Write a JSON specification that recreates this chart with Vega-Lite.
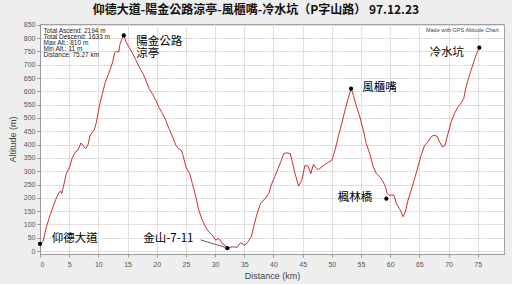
{
  "$schema": "https://vega.github.io/schema/vega-lite/v6.json",
  "width": 464,
  "height": 230,
  "autosize": "none",
  "padding": {"left": 40, "top": 24, "right": 8, "bottom": 30},
  "background": "#eeeeee",
  "title": {
    "text": "仰德大道-陽金公路涼亭-風櫃嘴-冷水坑（P字山路） 97.12.23",
    "font": "Noto Sans CJK TC",
    "fontSize": 12,
    "fontWeight": "bold",
    "color": "#111111",
    "anchor": "middle",
    "frame": "group",
    "dx": -16,
    "offset": 4
  },
  "config": {
    "view": {"fill": "#ffffff", "stroke": "#a0a0a0"},
    "axis": {
      "labelFont": "Liberation Sans",
      "labelFontSize": 7,
      "labelColor": "#555555",
      "titleFont": "Liberation Sans",
      "titleFontSize": 9,
      "titleFontWeight": "normal",
      "titleColor": "#444444",
      "domainColor": "#999999",
      "tickColor": "#999999",
      "tickSize": 3,
      "gridColor": "#d0d0d0",
      "gridDash": [2, 1]
    }
  },
  "datasets": {
    "profile": [
      {"d": 0.0, "a": 26}, {"d": 0.5, "a": 35}, {"d": 1.1, "a": 91}, {"d": 1.65, "a": 129},
      {"d": 2.2, "a": 164}, {"d": 2.7, "a": 194}, {"d": 3.1, "a": 214}, {"d": 3.5, "a": 226},
      {"d": 3.7, "a": 216}, {"d": 4.0, "a": 241}, {"d": 4.5, "a": 291}, {"d": 5.07, "a": 316},
      {"d": 5.5, "a": 348}, {"d": 6.0, "a": 371}, {"d": 6.5, "a": 379}, {"d": 7.0, "a": 406},
      {"d": 7.45, "a": 394}, {"d": 7.8, "a": 385}, {"d": 8.25, "a": 401}, {"d": 8.6, "a": 436},
      {"d": 8.9, "a": 444}, {"d": 9.3, "a": 456}, {"d": 9.6, "a": 478}, {"d": 10.2, "a": 547},
      {"d": 10.75, "a": 597}, {"d": 11.2, "a": 635}, {"d": 11.65, "a": 660}, {"d": 12.1, "a": 687},
      {"d": 12.45, "a": 710}, {"d": 12.8, "a": 745}, {"d": 13.1, "a": 750}, {"d": 13.5, "a": 747},
      {"d": 13.7, "a": 777}, {"d": 14.05, "a": 797}, {"d": 14.35, "a": 810}, {"d": 14.7, "a": 788},
      {"d": 15.3, "a": 764}, {"d": 15.9, "a": 741}, {"d": 16.4, "a": 719}, {"d": 17.0, "a": 691},
      {"d": 17.6, "a": 669}, {"d": 18.15, "a": 641}, {"d": 18.7, "a": 610}, {"d": 19.3, "a": 589},
      {"d": 19.85, "a": 566}, {"d": 20.4, "a": 539}, {"d": 21.0, "a": 516}, {"d": 21.55, "a": 491},
      {"d": 22.1, "a": 460}, {"d": 22.7, "a": 429}, {"d": 23.3, "a": 397}, {"d": 23.7, "a": 385},
      {"d": 24.2, "a": 379}, {"d": 24.5, "a": 360}, {"d": 25.0, "a": 316}, {"d": 25.65, "a": 291},
      {"d": 26.1, "a": 254}, {"d": 26.7, "a": 204}, {"d": 27.2, "a": 154}, {"d": 27.8, "a": 116},
      {"d": 28.4, "a": 89}, {"d": 28.9, "a": 72}, {"d": 29.5, "a": 60}, {"d": 30.1, "a": 41},
      {"d": 30.65, "a": 48}, {"d": 31.2, "a": 29}, {"d": 31.7, "a": 22}, {"d": 32.1, "a": 11},
      {"d": 32.9, "a": 16}, {"d": 33.8, "a": 14}, {"d": 34.35, "a": 31}, {"d": 35.1, "a": 22},
      {"d": 35.65, "a": 35}, {"d": 36.2, "a": 54}, {"d": 36.6, "a": 91}, {"d": 37.2, "a": 141},
      {"d": 37.8, "a": 179}, {"d": 38.6, "a": 198}, {"d": 39.2, "a": 216}, {"d": 39.6, "a": 247},
      {"d": 40.2, "a": 279}, {"d": 40.8, "a": 310}, {"d": 41.35, "a": 341}, {"d": 41.75, "a": 366},
      {"d": 42.3, "a": 369}, {"d": 42.9, "a": 366}, {"d": 43.15, "a": 341}, {"d": 43.7, "a": 291},
      {"d": 44.3, "a": 244}, {"d": 44.85, "a": 266}, {"d": 45.4, "a": 322}, {"d": 45.95, "a": 319},
      {"d": 46.4, "a": 291}, {"d": 46.85, "a": 326}, {"d": 47.1, "a": 316}, {"d": 47.7, "a": 306},
      {"d": 48.3, "a": 316}, {"d": 48.85, "a": 326}, {"d": 49.5, "a": 335}, {"d": 50.0, "a": 341},
      {"d": 50.55, "a": 379}, {"d": 51.1, "a": 429}, {"d": 51.7, "a": 479}, {"d": 52.25, "a": 529},
      {"d": 52.8, "a": 573}, {"d": 53.3, "a": 610}, {"d": 53.7, "a": 585}, {"d": 54.25, "a": 541},
      {"d": 54.8, "a": 504}, {"d": 55.4, "a": 454}, {"d": 55.9, "a": 404}, {"d": 56.5, "a": 366},
      {"d": 57.1, "a": 316}, {"d": 57.65, "a": 291}, {"d": 58.2, "a": 279}, {"d": 58.8, "a": 260},
      {"d": 59.2, "a": 241}, {"d": 59.5, "a": 216}, {"d": 59.8, "a": 210}, {"d": 60.65, "a": 210},
      {"d": 61.05, "a": 179}, {"d": 61.6, "a": 160}, {"d": 62.2, "a": 129}, {"d": 62.6, "a": 147},
      {"d": 63.05, "a": 191}, {"d": 63.6, "a": 229}, {"d": 64.2, "a": 273}, {"d": 64.75, "a": 316},
      {"d": 65.3, "a": 360}, {"d": 65.9, "a": 397}, {"d": 66.45, "a": 410}, {"d": 67.0, "a": 429},
      {"d": 67.5, "a": 435}, {"d": 68.05, "a": 431}, {"d": 68.45, "a": 410}, {"d": 69.0, "a": 391},
      {"d": 69.4, "a": 397}, {"d": 69.9, "a": 441}, {"d": 70.45, "a": 485}, {"d": 71.0, "a": 516},
      {"d": 71.6, "a": 541}, {"d": 72.1, "a": 554}, {"d": 72.6, "a": 573}, {"d": 73.0, "a": 616},
      {"d": 73.4, "a": 648}, {"d": 73.85, "a": 679}, {"d": 74.4, "a": 716}, {"d": 74.9, "a": 747},
      {"d": 75.27, "a": 764}
    ],
    "waypoints": [
      {"d": 0.0, "a": 27}, {"d": 14.35, "a": 810}, {"d": 32.1, "a": 11},
      {"d": 53.3, "a": 610}, {"d": 59.35, "a": 197}, {"d": 75.27, "a": 764}
    ],
    "labels": [
      {"d": 2.0, "a": 45, "t": "仰德大道"},
      {"d": 16.5, "a": 785, "t": "陽金公路\n涼亭"},
      {"d": 17.7, "a": 45, "t": "金山-7-11"},
      {"d": 55.2, "a": 612, "t": "風櫃嘴"},
      {"d": 51.0, "a": 200, "t": "楓林橋"},
      {"d": 66.75, "a": 745, "t": "冷水坑"}
    ],
    "leader": [{"d": 27.5, "a": 42, "d2": 31.9, "a2": 13}],
    "info": [
      {"d": 0.6, "a": 825, "t": "Total Ascend: 2194 m"},
      {"d": 0.6, "a": 803, "t": "Total Descend: 1633 m"},
      {"d": 0.6, "a": 781, "t": "Max Alt.: 810 m"},
      {"d": 0.6, "a": 759, "t": "Min Alt.: 11 m"},
      {"d": 0.6, "a": 737, "t": "Distance: 75.27 km"}
    ],
    "credit": [{"d": 78.6, "a": 829, "t": "Made with GPS Altitude Chart"}]
  },
  "encoding": {
    "x": {
      "field": "d", "type": "quantitative",
      "scale": {"domain": [0, 79.5], "nice": false, "zero": false},
      "axis": {"title": "Distance (km)", "values": [0,5,10,15,20,25,30,35,40,45,50,55,60,65,70,75], "titlePadding": 4, "labelPadding": 3}
    },
    "y": {
      "field": "a", "type": "quantitative",
      "scale": {"domain": [-11, 853], "nice": false, "zero": false},
      "axis": {"title": "Altitude (m)", "values": [0,50,100,150,200,250,300,350,400,450,500,550,600,650,700,750,800,850], "titlePadding": 6, "labelPadding": 2}
    }
  },
  "layer": [
    {
      "data": {"name": "profile"},
      "mark": {"type": "line", "color": "#c41818", "strokeWidth": 0.9, "clip": true}
    },
    {
      "data": {"name": "waypoints"},
      "mark": {"type": "point", "filled": true, "color": "#000000", "size": 18, "opacity": 1}
    },
    {
      "data": {"name": "leader"},
      "mark": {"type": "rule", "color": "#333333", "strokeWidth": 0.8},
      "encoding": {
        "x2": {"field": "d2"},
        "y2": {"field": "a2"}
      }
    },
    {
      "data": {"name": "labels"},
      "mark": {"type": "text", "align": "left", "baseline": "middle", "font": "Noto Sans CJK TC", "fontSize": 11.5, "lineBreak": "\n", "lineHeight": 11.5, "color": "#000000"},
      "encoding": {"text": {"field": "t"}}
    },
    {
      "data": {"name": "info"},
      "mark": {"type": "text", "align": "left", "baseline": "middle", "font": "Liberation Sans", "fontSize": 6.5, "color": "#222222"},
      "encoding": {"text": {"field": "t"}}
    },
    {
      "data": {"name": "credit"},
      "mark": {"type": "text", "align": "right", "baseline": "middle", "font": "Liberation Sans", "fontSize": 5.5, "color": "#444444"},
      "encoding": {"text": {"field": "t"}}
    }
  ]
}
